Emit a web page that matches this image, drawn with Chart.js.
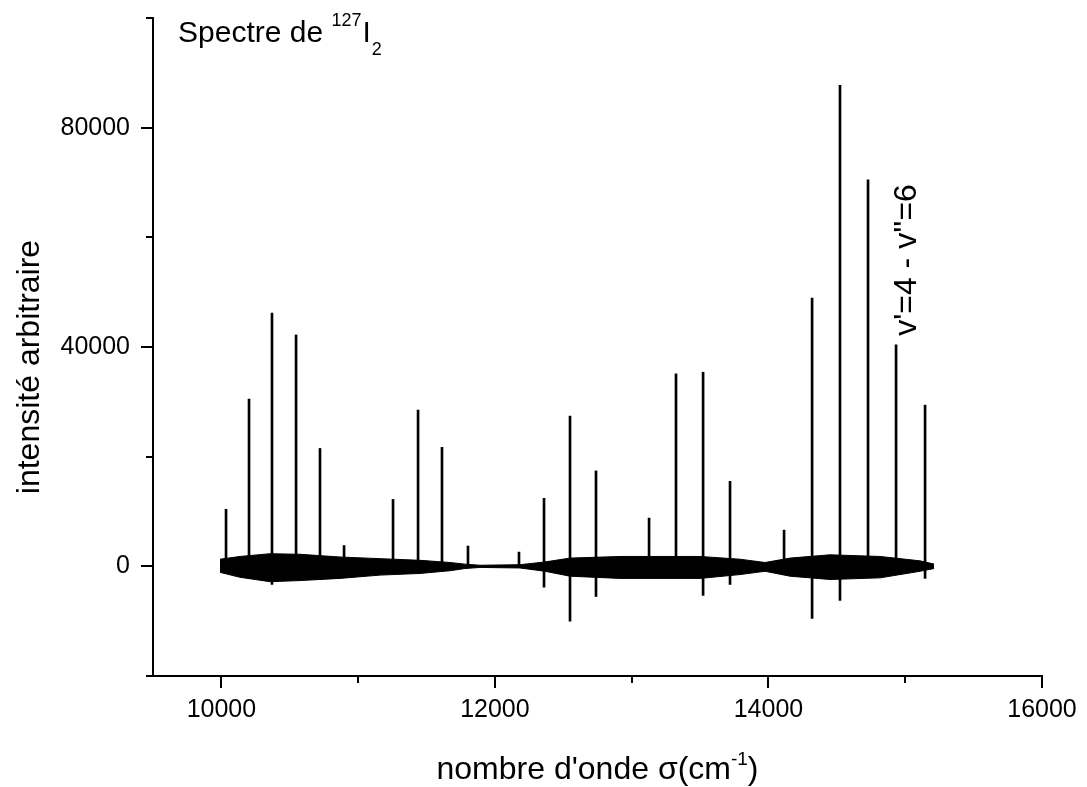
<!DOCTYPE html>
<html>
<head>
<meta charset="utf-8">
<script src="https://cdn.jsdelivr.net/npm/chart.js@4/dist/chart.umd.min.js"></script>
<style>
  html, body { margin: 0; padding: 0; background: #fff; }
  canvas { display: block; }
</style>
</head>
<body>
<canvas id="spectre" width="1087" height="787"></canvas>
<script>
// =============================================
// Data
// =============================================
// noise band envelope along the scan
const bandSigma = [9990, 10136, 10355, 10575, 10867, 11160, 11452, 11672, 11781, 11891,
                   12183, 12366, 12549, 12915, 13500, 13792, 13975, 14158, 14450, 14816,
                   15108, 15211];
const bandUpper = [1300, 1800, 2300, 2200, 1700, 1400, 1100, 700, 400, 200,
                   300, 800, 1500, 1800, 1800, 1300, 700, 1500, 2100, 1800,
                   1000, 400];
const bandLower = [-1100, -2000, -2800, -2600, -2200, -1600, -1300, -800, -400, -200,
                   -300, -900, -1800, -2200, -2200, -1500, -900, -1800, -2400, -2100,
                   -900, -400];

// emission lines
const peakSigma  = [10034, 10202, 10370, 10546, 10721, 10897, 11255, 11438, 11613, 11803,
                    12176, 12359, 12549, 12739, 13127, 13324, 13522, 13719, 14114, 14319,
                    14523, 14728, 14933, 15145];
const peakTop    = [10400, 30500, 46200, 42200, 21500, 3800, 12200, 28500, 21700, 3700,
                    2600, 12400, 27400, 17400, 8800, 35100, 35400, 15500, 6600, 48900,
                    87700, 70500, 40400, 29400];
const peakBottom = [0, 0, -3300, 0, 0, 0, 0, 0, 0, 0,
                    0, -3800, -10000, -5500, 0, 0, -5300, -3300, 0, -9500,
                    -6200, 0, 0, -2200];

// axes
const xMin = 9500, xMax = 16000;
const yMin = -20000, yMax = 100000;
const xTickValues = [10000, 11000, 12000, 13000, 14000, 15000, 16000];
const yTickValues = [-20000, 0, 20000, 40000, 60000, 80000, 100000];

const FONT = "'Liberation Sans', Arial, Helvetica, sans-serif";

// =============================================
// Ticks + free text
// =============================================
const decorPlugin = {
  id: 'decor',
  afterDraw(chart) {
    const ctx = chart.ctx;
    const xs = chart.scales.x;
    const ys = chart.scales.y;
    const area = chart.chartArea;

    ctx.save();
    ctx.strokeStyle = '#000';
    ctx.lineWidth = 2;
    ctx.beginPath();
    xTickValues.forEach(v => {
      const px = Math.round(xs.getPixelForValue(v));
      const len = v % 2000 === 0 ? 12 : 7;
      ctx.moveTo(px, area.bottom);
      ctx.lineTo(px, area.bottom + len);
    });
    yTickValues.forEach(v => {
      const py = Math.round(ys.getPixelForValue(v));
      const len = v % 40000 === 0 ? 12 : 7;
      ctx.moveTo(area.left, py);
      ctx.lineTo(area.left - len, py);
    });
    ctx.stroke();

    ctx.fillStyle = '#000';
    ctx.textBaseline = 'alphabetic';

    // inner title
    let x = 178;
    ctx.textAlign = 'left';
    ctx.font = `30px ${FONT}`;
    ctx.fillText('Spectre de ', x, 42);
    x += ctx.measureText('Spectre de ').width;
    ctx.font = `18px ${FONT}`;
    ctx.fillText('127', x, 26);
    x += ctx.measureText('127').width + 1;
    ctx.font = `30px ${FONT}`;
    ctx.fillText('I', x, 42);
    x += ctx.measureText('I').width + 1;
    ctx.font = `18px ${FONT}`;
    ctx.fillText('2', x, 55);

    // x title with superscript
    const parts = [
      { t: "nombre d'onde ", size: 32, dy: 0 },
      { t: 'σ', size: 32, dy: 0 },
      { t: '(cm', size: 32, dy: 0 },
      { t: '-1', size: 19, dy: -14 },
      { t: ')', size: 32, dy: 0 }
    ];
    let total = 0;
    parts.forEach(p => {
      ctx.font = `${p.size}px ${FONT}`;
      p.w = ctx.measureText(p.t).width;
      total += p.w;
    });
    x = (area.left + area.right) / 2 - total / 2;
    parts.forEach(p => {
      ctx.font = `${p.size}px ${FONT}`;
      ctx.fillText(p.t, x, 779 + p.dy);
      x += p.w;
    });

    // y title
    ctx.save();
    ctx.translate(39, 367);
    ctx.rotate(-Math.PI / 2);
    ctx.textAlign = 'center';
    ctx.font = `32px ${FONT}`;
    ctx.fillText('intensité arbitraire', 0, 0);
    ctx.restore();

    // band label
    ctx.save();
    ctx.translate(916, 260);
    ctx.rotate(-Math.PI / 2);
    ctx.textAlign = 'center';
    ctx.font = `32px ${FONT}`;
    ctx.fillText("v'=4 - v''=6", 0, 0);
    ctx.restore();

    ctx.restore();
  }
};

// =============================================
// Chart
// =============================================
const bandTop = bandSigma.map((s, i) => ({ x: s, y: bandUpper[i] }));
const bandBot = bandSigma.map((s, i) => ({ x: s, y: bandLower[i] }));
const lines   = peakSigma.map((s, i) => ({ x: s, y: [peakBottom[i], peakTop[i]] }));

const gridOpts = {
  drawOnChartArea: false,
  drawTicks: true,
  tickLength: 12,
  tickColor: 'rgba(0,0,0,0)',
  offset: false
};

new Chart(document.getElementById('spectre'), {
  type: 'bar',
  data: {
    datasets: [
      {
        type: 'line',
        data: bandTop,
        borderColor: '#000',
        backgroundColor: '#000',
        borderWidth: 1,
        pointRadius: 0,
        tension: 0,
        fill: '+1'
      },
      {
        type: 'line',
        data: bandBot,
        borderColor: '#000',
        borderWidth: 1,
        pointRadius: 0,
        tension: 0,
        fill: false
      },
      {
        type: 'bar',
        data: lines,
        backgroundColor: '#000',
        borderWidth: 0,
        barThickness: 2
      }
    ]
  },
  options: {
    responsive: false,
    animation: false,
    devicePixelRatio: 1,
    layout: { padding: { top: 18, right: 45, left: 0, bottom: 0 } },
    plugins: {
      legend: { display: false },
      tooltip: { enabled: false }
    },
    scales: {
      x: {
        type: 'linear',
        min: xMin,
        max: xMax,
        offset: false,
        afterBuildTicks: (s) => { s.ticks = xTickValues.map(v => ({ value: v })); },
        afterFit: (s) => { s.height = 111; s.paddingLeft = 0; s.paddingRight = 0; },
        border: { display: true, color: '#000', width: 2 },
        grid: gridOpts,
        ticks: {
          autoSkip: false,
          maxRotation: 0,
          padding: 7,
          color: '#000',
          font: { family: FONT, size: 25 },
          callback: (v) => (v % 2000 === 0 ? String(v) : '')
        }
      },
      y: {
        type: 'linear',
        min: yMin,
        max: yMax,
        afterBuildTicks: (s) => { s.ticks = yTickValues.map(v => ({ value: v })); },
        afterFit: (s) => { s.width = 153; s.paddingTop = 0; s.paddingBottom = 0; },
        border: { display: true, color: '#000', width: 2 },
        grid: gridOpts,
        ticks: {
          autoSkip: false,
          padding: 11,
          color: '#000',
          font: { family: FONT, size: 25 },
          callback: (v) => (v % 40000 === 0 ? String(v) : '')
        }
      }
    }
  },
  plugins: [decorPlugin]
});
</script>
</body>
</html>
